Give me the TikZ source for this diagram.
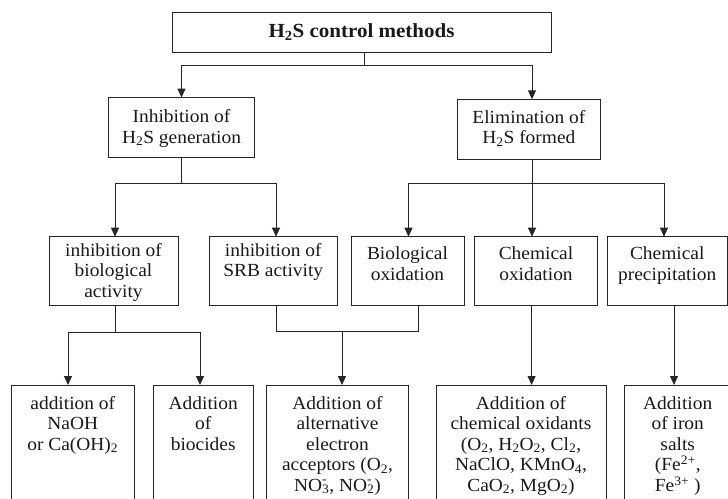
\documentclass[tikz,border=0pt]{standalone}
\usepackage{fontspec}
\setmainfont{Liberation Serif}[FakeStretch=1.05]
\usetikzlibrary{arrows.meta}
\newcommand{\bxt}[4]{\parbox[c][#2][t]{#1}{\centering\vspace*{#3}\strut #4\par}}
\newcommand{\ionx}[2]{\makebox[0pt][l]{\raisebox{1.5pt}{\textsuperscript{#2}}}\textsubscript{#1}}
\tikzset{
  box/.style={draw=black!85, line width=1pt, inner sep=0pt, outer sep=0pt,
    text=black!90, font=\fontsize{18.5}{20.5}\selectfont},
  topbox/.style={box, font=\fontsize{20}{22}\selectfont\bfseries},
  conn/.style={draw=black!85, line width=1pt},
  arr/.style={conn, -{Triangle[length=9pt,width=8pt]}}
}
\begin{document}
\begin{tikzpicture}[x=1pt,y=-1pt]
\useasboundingbox (0,0) rectangle (728,498);
\clip (0,0) rectangle (728,498);
% level 1
\node[topbox] (top) at (361.5,32.5) {\bxt{379pt}{39.6pt}{9.5pt}{H\textsubscript{2}S control methods}};
% level 2
\node[box] (inh) at (181.5,127.5) {\bxt{145.8pt}{60pt}{11pt}{Inhibition of\\H\textsubscript{2}S generation}};
\node[box] (elim) at (528.85,129.3) {\bxt{142.3pt}{60pt}{9.5pt}{Elimination of\\H\textsubscript{2}S formed}};
% level 3
\node[box] (L1) at (113.5,271) {\bxt{129pt}{68.6pt}{5pt}{inhibition of\\biological\\activity}};
\node[box] (L2) at (273.25,271) {\bxt{128.5pt}{68.6pt}{5pt}{inhibition of\\SRB activity}};
\node[box] (L3) at (407.5,271) {\bxt{113pt}{68.6pt}{8.5pt}{Biological\\oxidation}};
\node[box] (L4) at (536,271) {\bxt{123pt}{68.6pt}{8.5pt}{Chemical\\oxidation}};
\node[box] (L5) at (667.25,271) {\bxt{120.5pt}{68.6pt}{8.5pt}{Chemical\\precipitation}};
% level 4
\node[box] (B1) at (72.8,455) {\bxt{123.6pt}{140pt}{10pt}{addition of\\NaOH\\or Ca(OH)\textsubscript{2}}};
\node[box] (B2) at (203.25,455) {\bxt{100.5pt}{140pt}{10pt}{Addition\\of\\biocides}};
\node[box] (B3) at (337.5,455) {\bxt{142pt}{140pt}{10pt}{Addition of\\alternative\\electron\\acceptors (O\textsubscript{2},\\NO\ionx{3}{-}, NO\ionx{2}{-})}};
\node[box] (B4) at (521,455) {\bxt{170pt}{140pt}{10pt}{Addition of\\chemical oxidants\\(O\textsubscript{2}, H\textsubscript{2}O\textsubscript{2}, Cl\textsubscript{2},\\NaClO, KMnO\textsubscript{4},\\CaO\textsubscript{2}, MgO\textsubscript{2})}};
\node[box] (B5) at (677.75,455) {\bxt{106.5pt}{140pt}{10pt}{Addition\\of iron\\salts\\(Fe\textsuperscript{2+},\\Fe\textsuperscript{3+} )}};
% junctions
\coordinate (j0) at (364,65);
\coordinate (j1) at (181.5,183.7);
\coordinate (j2) at (532,183.7);
\coordinate (j3) at (115,332);
\coordinate (j4) at (342,331.7);
% connectors level 1 -> 2
\draw[conn] ([xshift=2.5pt]top.south) -- (j0);
\draw[arr] (j0) -| (inh.north);
\draw[arr] (j0) -| ([xshift=3.15pt]elim.north);
% level 2 -> 3
\draw[conn] (inh.south) -- (j1);
\draw[arr] (j1) -| ([xshift=1.5pt]L1.north);
\draw[arr] (j1) -| ([xshift=2.75pt]L2.north);
\draw[conn] ([xshift=3.15pt]elim.south) -- (j2);
\draw[arr] (j2) -| ([xshift=1pt]L3.north);
\draw[arr] (j2) -- ([xshift=-4pt]L4.north);
\draw[arr] (j2) -| ([xshift=-3.25pt]L5.north);
% level 3 -> 4
\draw[conn] ([xshift=1.5pt]L1.south) -- (j3);
\draw[arr] (j3) -| ([xshift=-4.8pt]B1.north);
\draw[arr] (j3) -| ([xshift=-3.25pt]B2.north);
\draw[conn] ([xshift=2.75pt]L2.south) |- (j4);
\draw[conn] ([xshift=10.5pt]L3.south) |- (j4);
\draw[arr] (j4) -- ([xshift=4.5pt]B3.north);
\draw[arr] ([xshift=-4.4pt]L4.south) -- ([xshift=10.6pt]B4.north);
\draw[arr] ([xshift=6.75pt]L5.south) -- ([xshift=-3.75pt]B5.north);
\end{tikzpicture}
\end{document}
